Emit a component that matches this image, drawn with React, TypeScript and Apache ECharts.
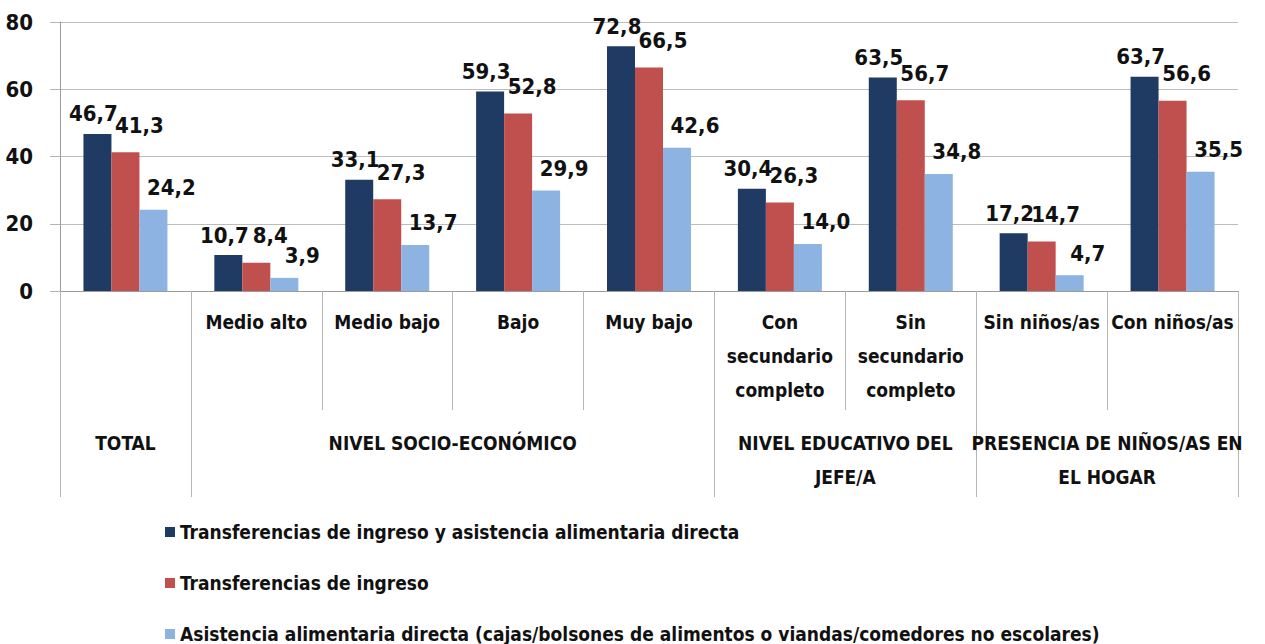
import React, { useEffect, useRef } from "react";
import * as echarts from "echarts";

const categories = [
  "",
  "Medio alto",
  "Medio bajo",
  "Bajo",
  "Muy bajo",
  "Con\nsecundario\ncompleto",
  "Sin\nsecundario\ncompleto",
  "Sin niños/as",
  "Con niños/as",
];

const groupLabels = [
  "TOTAL",
  "NIVEL SOCIO-ECONÓMICO",
  "NIVEL EDUCATIVO DEL\nJEFE/A",
  "PRESENCIA DE NIÑOS/AS EN\nEL HOGAR",
];
// group boundaries (in category units) and group centers
const groupBounds = [0, 1, 5, 7, 9];
const groupCenters = [0.5, 3, 6, 8];

const seriesNames = [
  "Transferencias de ingreso y asistencia alimentaria directa",
  "Transferencias de ingreso",
  "Asistencia alimentaria directa (cajas/bolsones de alimentos o viandas/comedores no escolares)",
];

const ambas = [46.7, 10.7, 33.1, 59.3, 72.8, 30.4, 63.5, 17.2, 63.7];
const transferencias = [41.3, 8.4, 27.3, 52.8, 66.5, 26.3, 56.7, 14.7, 56.6];
const asistencia = [24.2, 3.9, 13.7, 29.9, 42.6, 14.0, 34.8, 4.7, 35.5];

const yTicks = [0, 20, 40, 60, 80];

const FONT = "'DejaVu Sans Condensed', 'Liberation Sans Narrow', sans-serif";
const COLORS = ["#1F3B63", "#C0504D", "#8DB3E2"];
const TEXT = "#111111";

export default function App() {
  const ref = useRef<HTMLDivElement>(null);

  useEffect(() => {
    document.body.style.margin = "0";
    if (!ref.current) return;
    const chart = echarts.init(ref.current, undefined, { renderer: "svg" });

    const fmt = (p: any) => Number(p.value).toFixed(1).replace(".", ",");
    const labelBase = {
      show: true,
      position: "top" as const,
      distance: 5,
      fontFamily: FONT,
      fontWeight: "bold" as const,
      fontSize: 22,
      color: TEXT,
      formatter: fmt,
    };

    const dataSets = [ambas, transferencias, asistencia];
    const offsets = [
      [-4, -4],
      [14, -11],
      [18, -6],
    ];

    chart.setOption({
      animation: false,
      backgroundColor: "#ffffff",
      textStyle: { fontFamily: FONT },
      grid: { left: 60, right: 27, top: 22, bottom: 353, containLabel: false },
      legend: {
        orient: "vertical",
        left: 160,
        top: 515,
        height: 140,
        itemWidth: 10,
        itemHeight: 10,
        itemGap: 27,
        icon: "rect",
        textStyle: {
          fontFamily: FONT,
          fontSize: 19,
          fontWeight: "bold",
          color: TEXT,
          lineHeight: 24,
        },
        data: seriesNames,
      },
      xAxis: [
        {
          type: "category",
          data: categories,
          axisLine: { show: true, lineStyle: { color: "#9a9a9a", width: 1 } },
          axisTick: { show: true, length: 119, lineStyle: { color: "#b5b5b5" } },
          axisLabel: {
            interval: 0,
            margin: 14,
            fontFamily: FONT,
            fontWeight: "bold",
            fontSize: 19,
            lineHeight: 34,
            color: TEXT,
          },
        },
        {
          type: "value",
          min: 0,
          max: 9,
          position: "bottom",
          axisLine: { show: false },
          splitLine: { show: false },
          axisTick: {
            show: true,
            customValues: groupBounds,
            length: 206,
            lineStyle: { color: "#b5b5b5" },
          },
          axisLabel: {
            show: true,
            customValues: groupCenters,
            showMinLabel: true,
            showMaxLabel: true,
            hideOverlap: false,
            margin: 135,
            fontFamily: FONT,
            fontWeight: "bold",
            fontSize: 19,
            lineHeight: 34,
            color: TEXT,
            formatter: (v: number) => {
              const i = groupCenters.indexOf(v);
              return i >= 0 ? groupLabels[i] : "";
            },
          },
        },
      ],
      yAxis: {
        type: "value",
        min: yTicks[0],
        max: yTicks[yTicks.length - 1],
        interval: 20,
        axisLine: { show: true, lineStyle: { color: "#9a9a9a" } },
        axisTick: { show: true, length: 10, lineStyle: { color: "#b5b5b5" } },
        splitLine: { show: true, lineStyle: { color: "#bdbdbd", width: 1 } },
        axisLabel: {
          margin: 27,
          fontFamily: FONT,
          fontWeight: "bold",
          fontSize: 22,
          color: TEXT,
        },
      },
      series: dataSets.map((d, i) => ({
        name: seriesNames[i],
        type: "bar",
        data: d,
        barWidth: 28,
        barGap: "0%",
        itemStyle: { color: COLORS[i] },
        label: { ...labelBase, offset: offsets[i] },
      })),
    });

    return () => chart.dispose();
  }, []);

  return <div ref={ref} style={{ width: 1265, height: 644 }} />;
}
